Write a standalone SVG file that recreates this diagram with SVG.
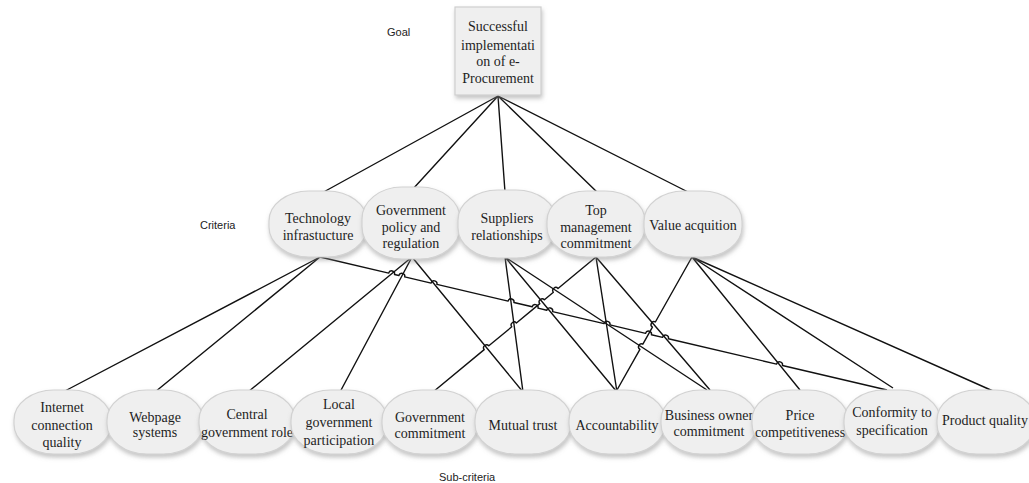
<svg xmlns="http://www.w3.org/2000/svg" width="1029" height="483" viewBox="0 0 1029 483">
<defs>
<filter id="sh" x="-20%" y="-20%" width="140%" height="150%">
<feDropShadow dx="1" dy="3" stdDeviation="2" flood-color="#8a8a8a" flood-opacity="0.5"/>
</filter>
<style>
.n{fill:#efefef;stroke:#d2d2d2;stroke-width:1.2;filter:url(#sh)}
.t{font-family:"Liberation Serif","Times New Roman",serif;font-size:14px;fill:#1e1e1e;text-anchor:middle}
.lb{font-family:"Liberation Sans",Arial,sans-serif;font-size:11px;fill:#222}
.c{fill:none;stroke:#111;stroke-width:1.4;stroke-linejoin:round}
</style>
</defs>
<rect width="1029" height="483" fill="#fff"/>
<text class="lb" x="387" y="36">Goal</text>
<text class="lb" x="200" y="229">Criteria</text>
<text class="lb" x="439" y="481">Sub-criteria</text>
<g id="connectors">
<path class="c" d="M498,96 L320,194 M498,96 L412,190 M498,96 L505,192 M498,96 L598,193 M498,96 L690,193"/>
<path class="c" d="M320,257 L63,392 M320,257 L155,392"/>
<path class="c" d="M412,257 L248,392 M412,257 L340,392 M412,257 L523,392"/>
<path class="c" d="M505,257 L523,392 M505,257 L617,392 M505,257 L707,390"/>
<path class="c" d="M596,257 L617,392 M596,257 L710,390"/>
<path class="c" d="M692,257 L800,390 M692,257 L893,388 M692,257 L993,391"/>
<path class="c" d="M320,257 L388.68,273.12 A3,3 0 0 1 394.52,274.49 L398.88,275.51 A3,3 0 0 1 404.72,276.88 L431.08,283.06 A3,3 0 0 1 436.92,284.43 L508.08,301.12 A3,3 0 0 1 513.92,302.49 L532.18,306.78 A3,3 0 0 1 538.02,308.15 L546.78,310.20 A3,3 0 0 1 552.62,311.57 L604.08,323.57 A3,3 0 0 1 609.92,324.94 L645.58,333.37 A3,3 0 0 1 651.42,334.74 L662.58,337.36 A3,3 0 0 1 668.42,338.73 L776.58,364.10 A3,3 0 0 1 782.42,365.47 L887,390"/>
<path class="c" d="M433,392 L484.19,349.61 A3,3 0 0 1 488.81,345.79 L511.79,326.81 A3,3 0 0 1 516.41,322.99 L539.79,303.61 A3,3 0 0 1 544.41,299.79 L553.39,292.31 A3,3 0 0 1 558.01,288.49 L596,257"/>
<path class="c" d="M617,390 L639.93,349.41 A3,3 0 0 1 642.87,344.19 L652.43,327.21 A3,3 0 0 1 655.37,321.99 L692,257"/>
</g>
<g id="goal">
<rect x="455" y="7" width="86" height="88" fill="#efefef" stroke="#cfcfcf" stroke-width="1.2" filter="url(#sh)"/>
<text class="t" x="498" y="31">Successful</text>
<text class="t" x="498" y="50">implementati</text>
<text class="t" x="498" y="66">on of e-</text>
<text class="t" x="498" y="83">Procurement</text>
</g>
<g id="c-technology">
<rect class="n" x="269" y="191" width="98" height="66" rx="40" ry="30"/>
<text class="t" x="318" y="223">Technology</text>
<text class="t" x="318" y="240">infrastucture</text>
</g>
<g id="c-government">
<rect class="n" x="362" y="187" width="98" height="72" rx="40" ry="32"/>
<text class="t" x="411" y="215">Government</text>
<text class="t" x="411" y="232">policy and</text>
<text class="t" x="411" y="248">regulation</text>
</g>
<g id="c-suppliers">
<rect class="n" x="458" y="190" width="98" height="68" rx="40" ry="30"/>
<text class="t" x="507" y="223">Suppliers</text>
<text class="t" x="507" y="240">relationships</text>
</g>
<g id="c-top">
<rect class="n" x="547" y="191" width="98" height="66" rx="40" ry="30"/>
<text class="t" x="596" y="215">Top</text>
<text class="t" x="596" y="232">management</text>
<text class="t" x="596" y="248">commitment</text>
</g>
<g id="c-value">
<rect class="n" x="644" y="191" width="98" height="66" rx="40" ry="30"/>
<text class="t" x="693" y="230">Value acquition</text>
</g>
<g id="s-internet">
<rect class="n" x="14" y="390" width="97" height="64" rx="40" ry="30"/>
<text class="t" x="62" y="412">Internet</text>
<text class="t" x="62" y="430">connection</text>
<text class="t" x="62" y="447">quality</text>
</g>
<g id="s-webpage">
<rect class="n" x="107" y="390" width="96" height="64" rx="40" ry="30"/>
<text class="t" x="155" y="422">Webpage</text>
<text class="t" x="155" y="437">systems</text>
</g>
<g id="s-central">
<rect class="n" x="199" y="390" width="96" height="64" rx="40" ry="30"/>
<text class="t" x="247" y="419">Central</text>
<text class="t" x="247" y="437">government role</text>
</g>
<g id="s-local">
<rect class="n" x="291" y="390" width="96" height="64" rx="40" ry="30"/>
<text class="t" x="339" y="409">Local</text>
<text class="t" x="339" y="427">government</text>
<text class="t" x="339" y="445">participation</text>
</g>
<g id="s-govcommit">
<rect class="n" x="382" y="390" width="96" height="64" rx="40" ry="30"/>
<text class="t" x="430" y="422">Government</text>
<text class="t" x="430" y="438">commitment</text>
</g>
<g id="s-mutual">
<rect class="n" x="475" y="390" width="96" height="64" rx="40" ry="30"/>
<text class="t" x="523" y="430">Mutual trust</text>
</g>
<g id="s-accountability">
<rect class="n" x="569" y="390" width="96" height="64" rx="40" ry="30"/>
<text class="t" x="617" y="430">Accountability</text>
</g>
<g id="s-business">
<rect class="n" x="661" y="390" width="96" height="64" rx="40" ry="30"/>
<text class="t" x="709" y="420">Business owner</text>
<text class="t" x="709" y="436">commitment</text>
</g>
<g id="s-price">
<rect class="n" x="752" y="390" width="96" height="64" rx="40" ry="30"/>
<text class="t" x="800" y="420">Price</text>
<text class="t" x="800" y="437">competitiveness</text>
</g>
<g id="s-conformity">
<rect class="n" x="844" y="390" width="96" height="64" rx="40" ry="30"/>
<text class="t" x="892" y="417">Conformity to</text>
<text class="t" x="892" y="435">specification</text>
</g>
<g id="s-product">
<rect class="n" x="937" y="390" width="98" height="64" rx="40" ry="30"/>
<text class="t" x="985" y="425">Product quality</text>
</g>
</svg>
